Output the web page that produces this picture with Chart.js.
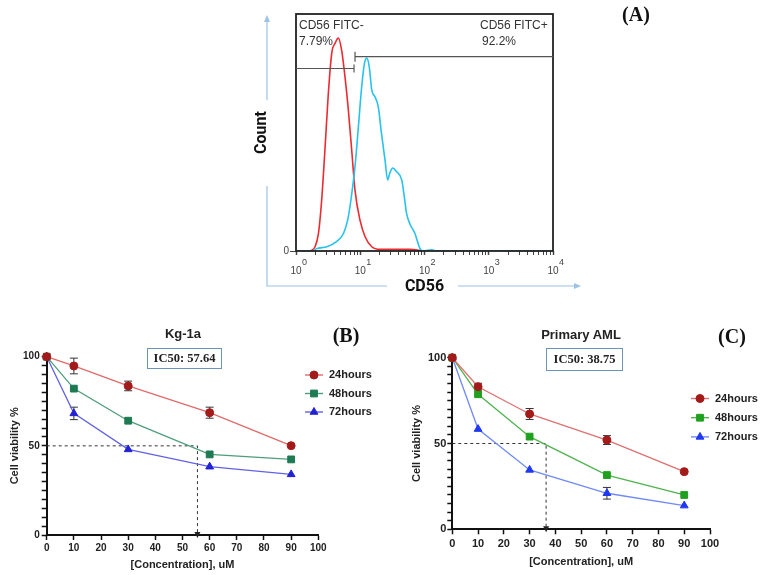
<!DOCTYPE html>
<html lang="en">
<head>
<meta charset="utf-8">
<title>CD56 e viabilidade celular</title>
<script src="https://cdn.jsdelivr.net/npm/chart.js@4.4.1/dist/chart.umd.min.js"></script>
<style>
  body { margin: 0; background: #fff; }
  #figura { position: relative; width: 764px; height: 575px; overflow: hidden; background: #fff; font-family: "Liberation Sans", Arial, sans-serif; }
  canvas { position: absolute; }
  .rotulo { position: absolute; white-space: nowrap; transform: translate(-50%, -50%); line-height: 1; }
  .letra { font-family: "Liberation Serif", serif; font-weight: bold; font-size: 20px; color: #111; }
  .titulo { font-weight: bold; font-size: 13px; color: #222; }
  .anot { position: absolute; white-space: nowrap; transform: translate(0, -50%); line-height: 1; font-size: 12px; color: #333; }
  .ic50 { position: absolute; box-sizing: border-box; border: 1.5px solid #6f93bb; display: flex; align-items: center; justify-content: center;
          font-family: "Liberation Serif", serif; font-weight: bold; font-size: 12.5px; color: #222; }
</style>
</head>
<body>
<div id="figura">
  <canvas id="graficoA" width="350" height="300" style="left:250px;top:0"></canvas>
  <canvas id="graficoB" width="380" height="265" style="left:0;top:310px"></canvas>
  <canvas id="graficoC" width="384" height="265" style="left:380px;top:310px"></canvas>

  <div class="anot" style="left:299px;top:25px">CD56 FITC-</div>
  <div class="anot" style="left:299px;top:41px">7.79%</div>
  <div class="anot" style="left:480px;top:25px">CD56 FITC+</div>
  <div class="anot" style="left:482px;top:41px">92.2%</div>

  <div class="rotulo letra" style="left:636px;top:14px">(A)</div>
  <div class="rotulo letra" style="left:346px;top:335px">(B)</div>
  <div class="rotulo letra" style="left:732px;top:336px">(C)</div>

  <div class="rotulo titulo" style="left:183px;top:333px">Kg-1a</div>
  <div class="rotulo titulo" style="left:581px;top:334px">Primary AML</div>

  <div class="ic50" style="left:147px;top:348px;width:75px;height:21px">IC50: 57.64</div>
  <div class="ic50" style="left:546px;top:348px;width:77px;height:23px">IC50: 38.75</div>
</div>

<script>
// Painel A - histograma CD56 (eixo x em escala log)
const cd56Negativo = [1.66, 1.98, 2.24, 2.51, 2.82, 3.16, 3.60, 4.05, 4.56, 5.13, 5.79, 6.53, 7.36, 8.28, 9.91, 11.9, 15.1, 20.4, 58.9, 95.5];
const contagemNegativo = [0, 1.8, 7.5, 21.5, 42.6, 65, 83.5, 87.6, 89.8, 84.8, 73.5, 59.5, 42.6, 25.7, 13, 6, 1.8, 0.7, 0.7, 0];
const cd56Positivo = [1, 1.84, 2.09, 3.02, 4.27, 5.50, 6.53, 7.36, 8.28, 9.33, 10.5, 11.6, 12.6, 13.8, 15.1, 17.0, 19.1, 21.4, 24.3, 26.7, 28.8, 32.0, 36.9, 44.2, 47.9, 52.5, 58.9, 70.8, 85.1, 95.5, 129, 158, 10000];
const contagemPositivo = [0, 0, 1, 1.8, 4, 7.5, 14.5, 24, 35.5, 52, 69, 79, 81.4, 77.8, 68, 65, 60.8, 49.6, 38.3, 30, 32.8, 35, 33.4, 30, 24, 16, 11.6, 7.5, 1, 0, 0.5, 0, 0];
const decadasLog = [1, 10, 100, 1000, 10000];
const expoentesLog = ["0", "1", "2", "3", "4"];
const limiteGate = 8;
const alturaGateNeg = 77;
const alturaGatePos = 82;

// Paineis B e C - viabilidade celular
const concentracoes = [0, 10, 30, 60, 90];

const kg24h = [100, 94.8, 83.6, 68.6, 50.1];
const kg48h = [100, 82.1, 64.1, 45.2, 42.4];
const kg72h = [100, 68.2, 48.0, 38.3, 34.0];
const kgErro24h = [0, 4.4, 2.7, 3.1, 0];
const kgErro48h = [0, 0, 0, 0, 0];
const kgErro72h = [0, 3.5, 0, 0, 0];
const kgIC50 = 55.5;

const aml24h = [100, 83.1, 67.2, 52.0, 33.6];
const aml48h = [100, 78.7, 54.0, 31.6, 20.0];
const aml72h = [100, 58.4, 34.6, 21.0, 13.8];
const amlErro24h = [0, 2, 3.2, 2.6, 0];
const amlErro48h = [0, 0, 0, 0, 0];
const amlErro72h = [0, 0, 0, 3.4, 0];
const amlIC50 = 36.4;

const fonteSans = "'Liberation Sans', 'DejaVu Sans', Arial, sans-serif";

const marcasLog = [];
decadasLog.forEach((d, i) => {
    if (i === decadasLog.length - 1) { marcasLog.push(d); return; }
    for (let k = 1; k < 10; k++) marcasLog.push(d * k);
});
const ehDecada = v => decadasLog.includes(v);

function pontos(xs, ys) {
    return xs.map((x, i) => ({ x, y: ys[i] }));
}

const desenhoCitometria = {
    id: "desenhoCitometria",
    afterDraw(chart) {
        const { ctx, chartArea: area, scales } = chart;
        const x = scales.x, y = scales.y;
        ctx.save();
        ctx.strokeStyle = "#222";
        ctx.lineWidth = 1.8;
        ctx.strokeRect(area.left, area.top, area.right - area.left, area.bottom - area.top);

        // gates
        const xg = x.getPixelForValue(limiteGate);
        const yNeg = y.getPixelForValue(alturaGateNeg);
        const yPos = y.getPixelForValue(alturaGatePos);
        ctx.strokeStyle = "#555";
        ctx.lineWidth = 1.2;
        ctx.beginPath();
        ctx.moveTo(area.left, yNeg); ctx.lineTo(xg, yNeg);
        ctx.moveTo(xg, yNeg - 4); ctx.lineTo(xg, yNeg + 4);
        ctx.moveTo(xg + 1, yPos); ctx.lineTo(area.right, yPos);
        ctx.moveTo(xg + 1, yPos - 5); ctx.lineTo(xg + 1, yPos + 5);
        ctx.stroke();

        // expoentes das decadas (10^n)
        ctx.font = "10px " + fonteSans;
        const larguraDez = ctx.measureText("10").width;
        ctx.font = "9px " + fonteSans;
        ctx.fillStyle = "#444";
        ctx.textBaseline = "top";
        ctx.textAlign = "left";
        decadasLog.forEach((d, i) => {
            const px = x.getPixelForValue(d);
            ctx.fillText(expoentesLog[i], px + larguraDez / 2 + 0.5, area.bottom + 7.5);
        });

        // setas azuis dos eixos
        const ex = area.left - 29, ey = 286;
        ctx.strokeStyle = "#9cc2e5";
        ctx.fillStyle = "#9cc2e5";
        ctx.lineWidth = 1.2;
        ctx.beginPath();
        ctx.moveTo(ex, 20); ctx.lineTo(ex, 100);
        ctx.moveTo(ex, 186); ctx.lineTo(ex, ey); ctx.lineTo(137, ey);
        ctx.moveTo(208, ey); ctx.lineTo(325, ey);
        ctx.stroke();
        ctx.beginPath();
        ctx.moveTo(ex, 15); ctx.lineTo(ex - 3, 22); ctx.lineTo(ex + 3, 22); ctx.closePath(); ctx.fill();
        ctx.beginPath();
        ctx.moveTo(331, ey); ctx.lineTo(324, ey - 3); ctx.lineTo(324, ey + 3); ctx.closePath(); ctx.fill();
        ctx.restore();
    }
};

new Chart(document.getElementById("graficoA"), {
    type: "line",
    data: {
        datasets: [
            { label: "CD56 FITC+", data: pontos(cd56Positivo, contagemPositivo), borderColor: "#27c2ee", borderWidth: 1.6, pointRadius: 0, cubicInterpolationMode: "monotone" },
            { label: "CD56 FITC-", data: pontos(cd56Negativo, contagemNegativo), borderColor: "#ec2a30", borderWidth: 1.6, pointRadius: 0, cubicInterpolationMode: "monotone" }
        ]
    },
    options: {
        responsive: false,
        animation: false,
        layout: { padding: { left: 0, top: 14, right: 47, bottom: 0 } },
        plugins: { legend: { display: false }, tooltip: { enabled: false } },
        scales: {
            x: {
                type: "logarithmic", min: 1, max: 10000,
                afterFit: s => { s.height = 49; },
                afterBuildTicks: s => { s.ticks = marcasLog.map(v => ({ value: v })); },
                border: { display: false },
                grid: { drawOnChartArea: false, tickLength: 4, tickColor: "#444", tickWidth: c => (c.tick && ehDecada(c.tick.value)) ? 1.5 : 1 },
                ticks: { autoSkip: false, maxRotation: 0, padding: 10, color: "#444", font: { family: fonteSans, size: 10 }, callback: v => (ehDecada(v) ? "10" : "") },
                title: { display: true, text: "CD56", color: "#111", font: { family: "Roboto, " + fonteSans, size: 16, weight: "bold" }, padding: { top: 0, bottom: 3.4 } }
            },
            y: {
                min: 0, max: 100,
                afterFit: s => { s.width = 46; },
                afterBuildTicks: s => { s.ticks = [{ value: 0 }]; },
                border: { display: false },
                grid: { drawOnChartArea: false, tickLength: 6, tickColor: "#444" },
                ticks: { padding: 1, color: "#444", font: { family: fonteSans, size: 10 } },
                title: { display: true, text: "Count", color: "#111", font: { family: "Roboto, " + fonteSans, size: 16, weight: "bold" }, padding: { top: 2.4, bottom: 0 } }
            }
        }
    },
    plugins: [desenhoCitometria]
});

// barras de erro, seta do IC50 e legenda
const desenhoViabilidade = {
    id: "desenhoViabilidade",
    beforeDatasetsDraw(chart, args, opts) {
        const { ctx, scales: { y } } = chart;
        ctx.save();
        ctx.strokeStyle = "#333";
        ctx.lineWidth = 1;
        opts.erros.forEach((erros, i) => {
            const meta = chart.getDatasetMeta(i);
            const valores = chart.data.datasets[i].data;
            erros.forEach((e, j) => {
                if (!e) return;
                const px = meta.data[j].x;
                const yTopo = y.getPixelForValue(valores[j].y + e);
                const yBase = y.getPixelForValue(valores[j].y - e);
                ctx.beginPath();
                ctx.moveTo(px, yTopo); ctx.lineTo(px, yBase);
                ctx.moveTo(px - 4, yTopo); ctx.lineTo(px + 4, yTopo);
                ctx.moveTo(px - 4, yBase); ctx.lineTo(px + 4, yBase);
                ctx.stroke();
            });
        });
        ctx.restore();
    },
    afterDatasetsDraw(chart, args, opts) {
        const { ctx, scales: { x, y } } = chart;
        const px = x.getPixelForValue(opts.ic50);
        const py = y.getPixelForValue(0);
        ctx.save();
        ctx.fillStyle = "#222";
        ctx.beginPath();
        ctx.moveTo(px, py + 3); ctx.lineTo(px - 3, py - 3); ctx.lineTo(px + 3, py - 3);
        ctx.closePath();
        ctx.fill();
        ctx.restore();
    },
    afterDraw(chart, args, opts) {
        const { ctx } = chart;
        const { x: lx, y: ly, passo } = opts.legenda;
        ctx.save();
        chart.data.datasets.slice(0, 3).forEach((ds, i) => {
            const ry = ly + i * passo;
            ctx.strokeStyle = ds.borderColor;
            ctx.lineWidth = 1.4;
            ctx.beginPath();
            ctx.moveTo(lx - 9, ry); ctx.lineTo(lx + 9, ry);
            ctx.stroke();
            ctx.fillStyle = ds.pointBackgroundColor;
            ctx.strokeStyle = ds.pointBorderColor;
            ctx.lineWidth = 1;
            Chart.helpers.drawPoint(ctx, { pointStyle: ds.pointStyle, radius: ds.pointRadius, borderWidth: 1, rotation: 0 }, lx, ry);
            ctx.fillStyle = "#222";
            ctx.font = "bold 11px " + fonteSans;
            ctx.textBaseline = "middle";
            ctx.textAlign = "left";
            ctx.fillText(ds.label, lx + 15, ry);
        });
        ctx.restore();
    }
};

function serie(label, valores, linha, marcador, estilo, raio) {
    return {
        label, data: pontos(concentracoes, valores),
        borderColor: linha, borderWidth: 1.3,
        pointStyle: estilo, pointRadius: raio,
        pointBackgroundColor: marcador, pointBorderColor: marcador, pointBorderWidth: 1,
        clip: false
    };
}

function graficoViabilidade(id, series, ic50, erros, layout) {
    new Chart(document.getElementById(id), {
        type: "line",
        data: {
            datasets: series.concat([{
                label: "IC50",
                data: [{ x: 0, y: 50 }, { x: ic50, y: 50 }, { x: ic50, y: 0 }],
                borderColor: "#333", borderWidth: 1, borderDash: [3, 3], pointRadius: 0, clip: false
            }])
        },
        options: {
            responsive: false,
            animation: false,
            layout: { padding: layout.padding },
            plugins: {
                legend: { display: false },
                tooltip: { enabled: false },
                desenhoViabilidade: { erros, ic50, legenda: layout.legenda }
            },
            scales: {
                x: {
                    type: "linear", min: 0, max: 100,
                    afterFit: s => { s.height = layout.alturaX; },
                    border: { color: "#111", width: 2 },
                    grid: { drawOnChartArea: false, tickLength: 5, tickColor: "#111", tickWidth: 1.5 },
                    ticks: { stepSize: 10, autoSkip: false, maxRotation: 0, padding: layout.padTicksX, color: "#222", font: { family: fonteSans, size: layout.fonteTicks, weight: "bold" } },
                    title: { display: true, text: "[Concentration], uM", color: "#222", font: { family: fonteSans, size: 11, weight: "bold" }, padding: { top: 0, bottom: layout.padTituloX } }
                },
                y: {
                    min: 0, max: 100,
                    afterFit: s => { s.width = layout.larguraY; },
                    border: { color: "#111", width: 2 },
                    grid: { drawOnChartArea: false, tickLength: 5, tickColor: "#111", tickWidth: 1.5 },
                    ticks: { stepSize: 5, autoSkip: false, padding: layout.padTicksY, color: "#222", font: { family: fonteSans, size: layout.fonteTicks, weight: "bold" }, callback: v => (v % 50 === 0 ? v : "") },
                    title: { display: true, text: "Cell viability %", color: "#222", font: { family: fonteSans, size: 11, weight: "bold" }, padding: { top: layout.padTituloY, bottom: 0 } }
                }
            }
        },
        plugins: [desenhoViabilidade]
    });
}

graficoViabilidade("graficoB", [
    serie("24hours", kg24h, "#e06a6a", "#a31a1a", "circle", 4),
    serie("48hours", kg48h, "#4d9e7a", "#1d7a52", "rect", 4.8),
    serie("72hours", kg72h, "#6262e6", "#2222d4", "triangle", 4.5)
], kgIC50, [kgErro24h, kgErro48h, kgErro72h], {
    padding: { left: 0, top: 46.7, right: 61.7, bottom: 0 },
    larguraY: 46.7, alturaX: 40, padTicksX: 2.5, padTicksY: 2, padTituloX: 3.4, padTituloY: 8.4, fonteTicks: 10,
    legenda: { x: 314, y: 65, passo: 18.5 }
});

graficoViabilidade("graficoC", [
    serie("24hours", aml24h, "#e07070", "#a31a1a", "circle", 4),
    serie("48hours", aml48h, "#4db34d", "#1fa01f", "rect", 4.8),
    serie("72hours", aml72h, "#6f8af5", "#2038f2", "triangle", 4.5)
], amlIC50, [amlErro24h, amlErro48h, amlErro72h], {
    padding: { left: 0, top: 47.7, right: 54, bottom: 0 },
    larguraY: 72.3, alturaX: 45.7, padTicksX: 3, padTicksY: 1, padTituloX: 6.7, padTituloY: 30.7, fonteTicks: 11,
    legenda: { x: 320, y: 88.5, passo: 19.2 }
});
</script>
</body>
</html>
